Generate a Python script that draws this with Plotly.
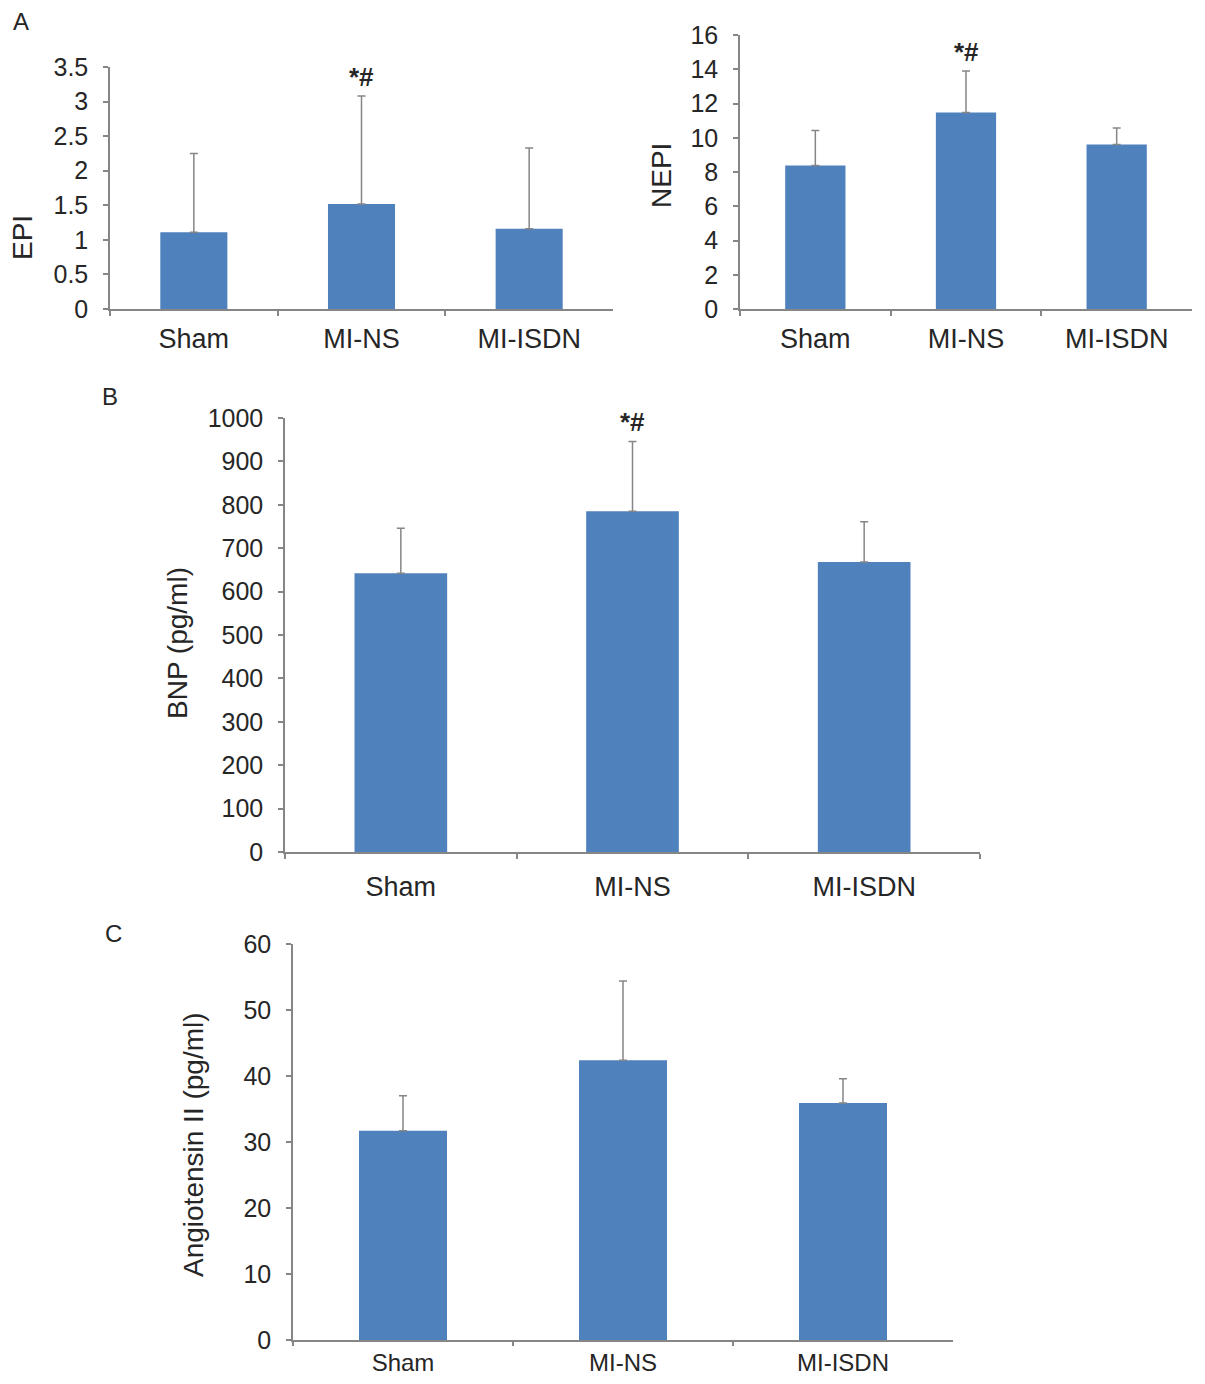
import plotly.graph_objs as go

groups = ['Sham', 'MI-NS', 'MI-ISDN']

epi = [1.11, 1.52, 1.16]
epi_sd = [1.14, 1.56, 1.17]

nepi = [8.38, 11.48, 9.60]
nepi_sd = [2.05, 2.42, 0.97]

bnp = [642, 785, 668]
bnp_sd = [104, 161, 93]

ang = [31.7, 42.4, 35.9]
ang_sd = [5.3, 12.0, 3.7]

stars = ['', '*#', '']

# page is 1205 x 1384, the html body keeps its default 8px margin
PAD = 8
W, H = 1205 - 2 * PAD, 1384 - 2 * PAD
BLUE = '#4F81BD'
GREY = '#868686'
TXT = '#262626'
FONT = 'Liberation Sans, Arial, sans-serif'


def px_x(x):
    return (x - PAD) / W


def px_y(y):
    return 1 - (y - PAD) / H


def bar(vals, sd, xa, ya):
    return go.Bar(x=groups, y=vals, xaxis=xa, yaxis=ya,
                  marker=dict(color=BLUE, line=dict(width=0)),
                  error_y=dict(type='data', symmetric=False, array=sd,
                               arrayminus=[0] * len(sd), color=GREY,
                               thickness=1.5, width=4),
                  showlegend=False, hoverinfo='skip')


data = [bar(epi, epi_sd, 'x', 'y'),
        bar(nepi, nepi_sd, 'x2', 'y2'),
        bar(bnp, bnp_sd, 'x3', 'y3'),
        bar(ang, ang_sd, 'x4', 'y4')]


def xaxis(x0, x1, anchor, standoff, size=27, tlen=5):
    return dict(domain=[px_x(x0), px_x(x1)], anchor=anchor, type='category',
                showline=True, linecolor=GREY, linewidth=1.5,
                ticks='outside', tickson='boundaries', ticklen=tlen,
                tickcolor=GREY, tickwidth=1.5, ticklabelstandoff=standoff,
                tickfont=dict(size=size, color=TXT, family=FONT),
                showgrid=False, zeroline=False, fixedrange=True,
                automargin=False)


def yaxis(y0, y1, anchor, top, step):
    return dict(domain=[px_y(y0), px_y(y1)], anchor=anchor, range=[0, top],
                dtick=step, tick0=0, showline=True, linecolor=GREY,
                linewidth=1.5, ticks='outside', ticklen=5, tickcolor=GREY,
                tickwidth=1.5, ticklabelstandoff=10,
                tickfont=dict(size=25, color=TXT, family=FONT),
                showgrid=False, zeroline=False, fixedrange=True,
                automargin=False)


annotations = []

# y axis titles and panel letters (page pixel positions)
for text, x, y in [('EPI', 22, 238), ('NEPI', 662, 176),
                   ('BNP (pg/ml)', 177, 643),
                   ('Angiotensin II (pg/ml)', 193, 1145)]:
    annotations.append(dict(text=text, x=px_x(x), y=px_y(y), xref='paper',
                            yref='paper', xanchor='center', yanchor='middle',
                            textangle=-90, showarrow=False,
                            font=dict(size=28, color=TXT, family=FONT)))

for text, x, y in [('A', 21, 22), ('B', 110, 397), ('C', 113, 933)]:
    annotations.append(dict(text=text, x=px_x(x), y=px_y(y), xref='paper',
                            yref='paper', xanchor='center', yanchor='middle',
                            showarrow=False,
                            font=dict(size=24, color=TXT, family=FONT)))

# significance marks above the error bars
for xa, ya, vals, sd in [('x', 'y', epi, epi_sd), ('x2', 'y2', nepi, nepi_sd),
                         ('x3', 'y3', bnp, bnp_sd)]:
    for g, s, v, e in zip(groups, stars, vals, sd):
        if s:
            annotations.append(dict(text='<b>' + s + '</b>', x=g, y=v + e,
                                    xref=xa, yref=ya, yanchor='bottom',
                                    yshift=2, showarrow=False,
                                    font=dict(size=26, color=TXT,
                                              family=FONT)))

layout = go.Layout(width=W, height=H,
                   margin=dict(l=0, r=0, t=0, b=0, autoexpand=False),
                   paper_bgcolor='white', plot_bgcolor='white',
                   bargap=0.6, font=dict(family=FONT),
                   xaxis=xaxis(110, 613, 'y', 5),
                   yaxis=yaxis(309, 67, 'x', 3.5, 0.5),
                   xaxis2=xaxis(740, 1192, 'y2', 5),
                   yaxis2=yaxis(309, 35, 'x2', 16, 2),
                   xaxis3=xaxis(285, 980, 'y3', 10),
                   yaxis3=yaxis(852, 418, 'x3', 1000, 100),
                   xaxis4=xaxis(293, 953, 'y4', 0, 24, 4),
                   yaxis4=yaxis(1340, 944, 'x4', 60, 10),
                   annotations=annotations)

figure = go.Figure(data=data, layout=layout)
figure.write_html('out.html')
